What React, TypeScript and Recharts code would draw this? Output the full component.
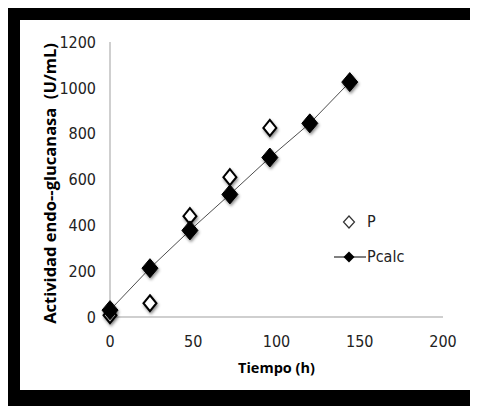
import React from 'react';
import { ScatterChart, Scatter, XAxis, YAxis, Legend } from 'recharts';

const tiempo = [0, 24, 48, 72, 96, 120, 144];
const pMedido = [8, 60, 440, 610, 825];
const pCalc = [30, 213, 378, 535, 696, 845, 1025];

const xTicks = [0, 50, 100, 150, 200];
const yTicks = [0, 200, 400, 600, 800, 1000, 1200];

const dataP = pMedido.map((v, i) => ({ x: tiempo[i], y: v }));
const dataCalc = pCalc.map((v, i) => ({ x: tiempo[i], y: v }));

const FONT = '"Liberation Sans Narrow", "DejaVu Sans Condensed", Arial, sans-serif';
const BOLD_FONT = '"Open Sans", Arial, sans-serif';
const shadow = 'drop-shadow(1.5px 2px 1.5px rgba(0,0,0,0.45))';

const OpenDiamond = (props: any) => {
    const { cx, cy } = props;
    if (cx == null || cy == null) return null;
    return (
        <polygon
            points={`${cx},${cy - 8} ${cx + 6.5},${cy} ${cx},${cy + 8} ${cx - 6.5},${cy}`}
            fill="#fff"
            stroke="#000"
            strokeWidth={2}
            style={{ filter: shadow }}
        />
    );
};

const FilledDiamond = (props: any) => {
    const { cx, cy } = props;
    if (cx == null || cy == null) return null;
    return (
        <polygon
            points={`${cx},${cy - 9.5} ${cx + 8},${cy} ${cx},${cy + 9.5} ${cx - 8},${cy}`}
            fill="#000"
            stroke="#000"
            strokeWidth={1}
            style={{ filter: shadow }}
        />
    );
};

const LeyendaPersonal = () => (
    <svg width={100} height={70}>
        <polygon points="19,8 24.5,14 19,20 13.5,14" fill="#fff" stroke="#333" strokeWidth={1.2} />
        <text x={37} y={19} fontFamily={FONT} fontSize={16} fill="#222">P</text>
        <line x1={4} y1={49} x2={36} y2={49} stroke="#000" strokeWidth={1} />
        <polygon points="19,43.5 24.5,49 19,54.5 13.5,49" fill="#000" />
        <text x={37} y={54} fontFamily={FONT} fontSize={16} fill="#222">Pcalc</text>
    </svg>
);

const EtiquetaY = (props: any) => {
    const { viewBox } = props;
    const x = 48;
    const y = viewBox.y + viewBox.height / 2 + 4;
    return (
        <text
            x={x}
            y={y}
            transform={`rotate(-90, ${x}, ${y})`}
            textAnchor="middle"
            fontFamily={BOLD_FONT}
            fontWeight="bold"
            fontSize={16.5}
            fill="#000"
            xmlSpace="preserve"
            style={{ whiteSpace: 'pre' }}
        >
            {'Actividad endo--glucanasa  (U/mL)'}
        </text>
    );
};

const EtiquetaX = (props: any) => {
    const { viewBox } = props;
    return (
        <text
            x={viewBox.x + viewBox.width / 2}
            y={365}
            textAnchor="middle"
            fontFamily={BOLD_FONT}
            fontWeight="bold"
            fontSize={14.5}
            fill="#000"
        >
            Tiempo (h)
        </text>
    );
};

const App: React.FC = () => {
    return (
        <div style={{ position: 'relative', width: 470, height: 398, background: '#fff' }}>
            <style>{'body{overflow:hidden}'}</style>
            <ScatterChart width={470} height={398} margin={{ top: 34, right: 35, left: 0, bottom: 0 }}>
                <XAxis
                    type="number"
                    dataKey="x"
                    domain={[0, 200]}
                    ticks={xTicks}
                    height={89}
                    axisLine={{ stroke: '#bfbfbf', strokeWidth: 1.5 }}
                    tickLine={false}
                    tickSize={0}
                    tickMargin={19}
                    tick={{ fontFamily: FONT, fontSize: 16, fill: '#222' }}
                    label={<EtiquetaX />}
                />
                <YAxis
                    type="number"
                    dataKey="y"
                    domain={[0, 1200]}
                    ticks={yTicks}
                    width={102}
                    axisLine={{ stroke: '#bfbfbf', strokeWidth: 1.5 }}
                    tickLine={false}
                    tickSize={0}
                    tickMargin={14}
                    tick={{ fontFamily: FONT, fontSize: 16, fill: '#222' }}
                    label={<EtiquetaY />}
                />
                <Scatter name="P" data={dataP} shape={<OpenDiamond />} isAnimationActive={false} />
                <Scatter
                    name="Pcalc"
                    data={dataCalc}
                    shape={<FilledDiamond />}
                    line={{ stroke: '#4d4d4d', strokeWidth: 1 }}
                    isAnimationActive={false}
                />
                <Legend
                    layout="vertical"
                    align="center"
                    verticalAlign="middle"
                    content={() => <LeyendaPersonal />}
                    wrapperStyle={{ position: 'absolute', left: 322, top: 200, width: 100, height: 70 }}
                />
            </ScatterChart>
            <div
                style={{
                    position: 'absolute',
                    inset: 0,
                    boxSizing: 'border-box',
                    borderStyle: 'solid',
                    borderColor: '#000',
                    borderWidth: '12px 5px 16px 12px',
                    pointerEvents: 'none',
                }}
            />
        </div>
    );
};

export default App;
